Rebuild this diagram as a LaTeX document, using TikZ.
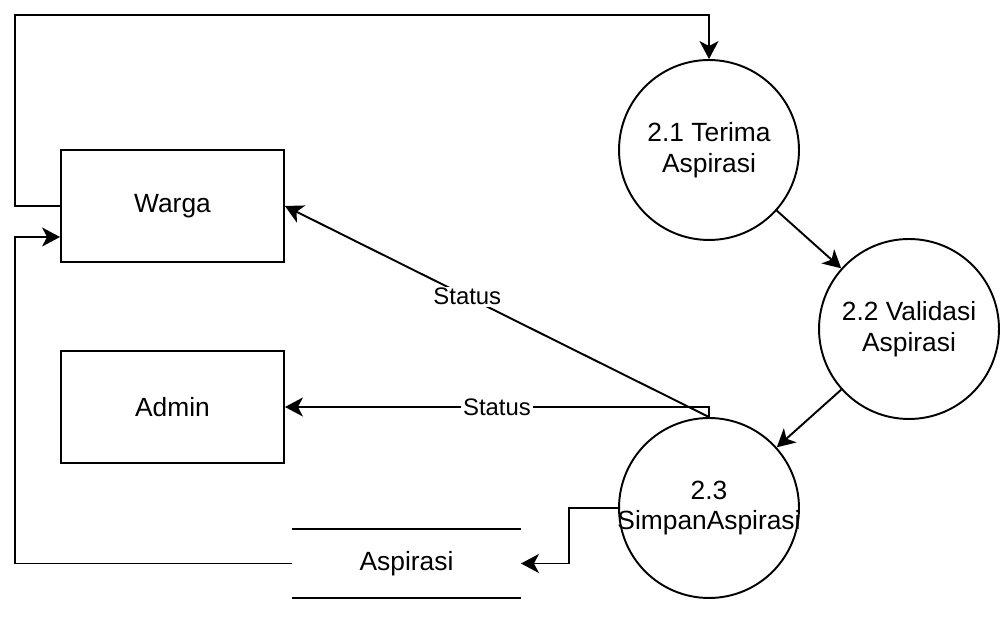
\documentclass[tikz,border=0pt]{standalone}
\usepackage{fontspec}
\setmainfont{Liberation Sans}
\usetikzlibrary{calc}
\usetikzlibrary{arrows.meta}
\usetikzlibrary{positioning}

\begin{document}
\begin{tikzpicture}[x=0.02cm, y=-0.02cm, line width=1.1pt,
		entity/.style={draw, rectangle, minimum width=4.46cm, minimum height=2.24cm, font=\fontsize{15}{17.5}\selectfont},
		process/.style={draw, circle, minimum size=3.6cm, inner sep=0pt, align=center, font=\fontsize{15}{17.5}\selectfont},
		flow/.style={-{Stealth[length=0.36cm, width=0.38cm, inset=0.1cm]}},
		lbl/.style={fill=white, inner sep=1pt, font=\fontsize{13.6}{16}\selectfont}]
		\useasboundingbox (0,0) rectangle (1000,617);

		% external entities
		\node[entity] (warga) at (172.5,206) {Warga};
		\node[entity] (admin) at (172.5,407) {Admin};

		% processes
		\node[process] (p21) at (709,150) {2.1 Terima\\Aspirasi};
		\node[process] (p22) at (909,329) {2.2 Validasi\\Aspirasi};
		\node[process] (p23) at (709,508) {2.3\\\makebox[0pt]{SimpanAspirasi}};

		% data store
		\node[minimum width=4.54cm, minimum height=1.34cm, inner sep=0pt, font=\fontsize{15}{17.5}\selectfont] (store) at (406.5,563.5) {Aspirasi};
		\draw (store.north west) -- (store.north east);
		\draw (store.south west) -- (store.south east);

		% flows
		\path (p21.north) ++(0,-44) coordinate (topbend);
		\draw[flow] (warga.west) -- ++(-45,0) |- (topbend) -- (p21.north);
		\draw[flow] (p21) -- (p22);
		\draw[flow] (p22) -- (p23);
		\draw[flow] (p23.north) -- node[lbl, pos=0.57] {Status} (warga.east);
		\draw[flow] (p23.north) |- node[lbl, pos=0.75] {Status} (admin.east);
		\draw[flow] (p23.west) -- ++(-49,0) |- (store.east);
		\draw[flow] (store.west) -- ++(-277,0) |- ($(warga.west)+(0,31)$);
	\end{tikzpicture}
\end{document}
